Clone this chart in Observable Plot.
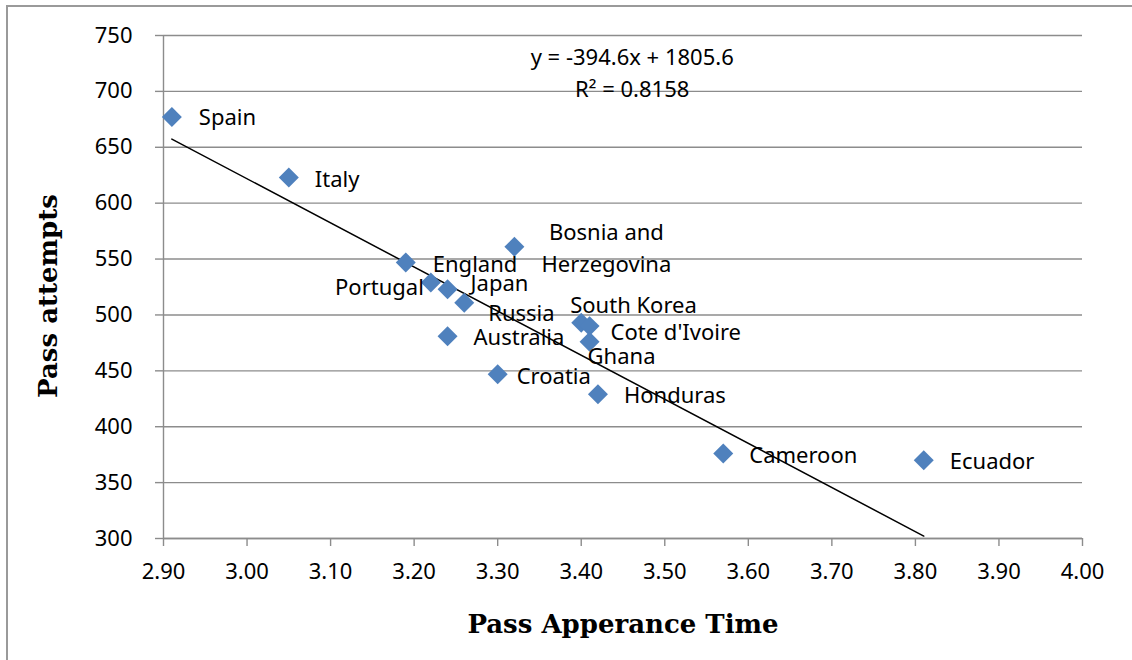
<!DOCTYPE html>
<html>
<head>
<meta charset="utf-8">
<script src="https://cdn.jsdelivr.net/npm/d3@7"></script>
<script src="https://cdn.jsdelivr.net/npm/@observablehq/plot@0.6"></script>
<style>
  html, body { margin: 0; padding: 0; background: #fff; }
  #wrap { position: relative; width: 1132px; height: 660px; overflow: hidden; }
  #border { position: absolute; left: 6px; top: 5px; width: 1200px; height: 800px;
            border-left: 2px solid #9a9a9a; border-top: 2px solid #9a9a9a; pointer-events: none; }
</style>
</head>
<body>
<div id="wrap"><div id="border"></div></div>
<script>
// ---- data ----
const countries = ["Spain", "Italy", "England", "Portugal", "Japan", "Russia", "Bosnia and\nHerzegovina",
  "Australia", "Croatia", "South Korea", "Cote d'Ivoire", "Ghana", "Honduras", "Cameroon", "Ecuador"];
const passTime = [2.91, 3.05, 3.19, 3.22, 3.24, 3.26, 3.32, 3.24, 3.30, 3.40, 3.41, 3.41, 3.42, 3.57, 3.81];
const passAttempts = [677, 623, 547, 529, 523, 511, 561, 481, 447, 493, 490, 476, 429, 376, 370];

const xTicks = [2.9, 3.0, 3.1, 3.2, 3.3, 3.4, 3.5, 3.6, 3.7, 3.8, 3.9, 4.0];
const yTicks = [300, 350, 400, 450, 500, 550, 600, 650, 700, 750];

// linear trend (from the chart's equation)
const trendSlope = -394.6;
const trendIntercept = 1805.6;
const trendXRange = [2.91, 3.81];
const equationLines = ["y = -394.6x + 1805.6", "R² = 0.8158"];
const equationX = [3.461, 3.461];
const equationY = [729.5, 701];

const xTitle = "Pass Apperance Time";
const yTitle = "Pass attempts";

// ---- label placement (pixel offsets from each point) ----
const labelDx = [27, 26, 27, -7, 23, 24, 92, 26, 19, -11, 21, -2, 26, 26, 26];
const labelDy = [-2, -1, -1, 2, -8, 8, -1, -1, 0, -20, 4, 12, -1, -1, -1];
const labelAnchor = ["start", "start", "start", "end", "start", "start", "middle", "start", "start",
  "start", "start", "start", "start", "start", "start"];

const points = countries.map((c, i) => ({country: c, x: passTime[i], y: passAttempts[i]}));
const trend = trendXRange.map(x => ({x, y: trendSlope * x + trendIntercept}));
const equation = equationLines.map((t, i) => ({t, x: equationX[i], y: equationY[i]}));

const GRID = "#8c8c8c";
const BLUE = "#4F81BD";

const labelMarks = points.map((p, i) => Plot.text([p], {
  x: "x", y: "y", text: "country",
  dx: labelDx[i], dy: labelDy[i], textAnchor: labelAnchor[i],
  lineAnchor: "middle", lineHeight: 1.44, fill: "black"
}));

const chart = Plot.plot({
  width: 1132,
  height: 660,
  marginLeft: 163,
  marginRight: 50,
  marginTop: 35,
  marginBottom: 122,
  style: { fontFamily: "'Noto Sans', sans-serif", fontSize: "22px", background: "transparent", color: "black" },
  x: { domain: [2.9, 4.0], label: null },
  y: { domain: [300, 750], label: null },
  marks: [
    Plot.gridY(yTicks, { stroke: GRID, strokeOpacity: 1, strokeWidth: 1.4 }),
    Plot.ruleX([2.9], { stroke: GRID, strokeWidth: 1.4 }),
    Plot.ruleY([300], { stroke: GRID, strokeWidth: 1.4 }),
    Plot.axisX({ ticks: xTicks, tickFormat: d3.format(".2f"), tickSize: 8, tickPadding: 17,
      stroke: GRID, strokeWidth: 1.4, fill: "black", label: null }),
    Plot.axisY({ ticks: yTicks, tickFormat: d3.format("d"), tickSize: 8, tickPadding: 23,
      stroke: GRID, strokeWidth: 1.4, fill: "black", label: null }),
    Plot.line(trend, { x: "x", y: "y", stroke: "black", strokeWidth: 1.5 }),
    Plot.dot(points, { x: "x", y: "y", symbol: "diamond2", r: 9, fill: BLUE, stroke: "none" }),
    ...labelMarks,
    Plot.text(equation, { x: "x", y: "y", text: "t", textAnchor: "middle", lineAnchor: "middle", fill: "black" }),
    Plot.text([xTitle], { frameAnchor: "bottom", dy: 86, lineAnchor: "middle", textAnchor: "middle",
      fontFamily: "'DejaVu Serif', serif", fontWeight: "bold", fontSize: 26, fill: "black" }),
    Plot.text([yTitle], { frameAnchor: "left", dx: -115, dy: 9, rotate: -90, lineAnchor: "middle", textAnchor: "middle",
      fontFamily: "'DejaVu Serif', serif", fontWeight: "bold", fontSize: 26, fill: "black" })
  ]
});
document.getElementById("wrap").prepend(chart);
</script>
</body>
</html>
